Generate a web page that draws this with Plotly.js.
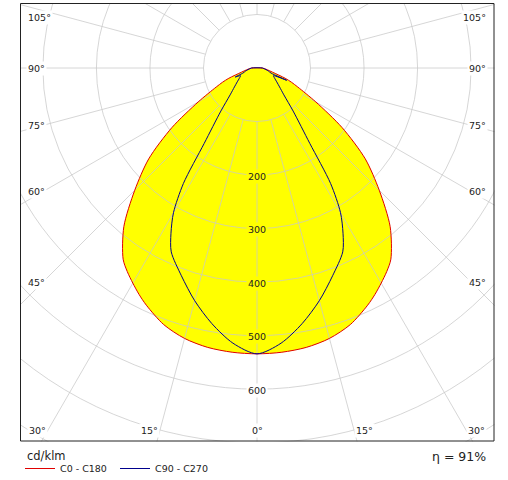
<!DOCTYPE html>
<html><head><meta charset="utf-8">
<script src="https://cdn.plot.ly/plotly-3.0.1.min.js"></script>
<style>
html,body{margin:0;padding:0;overflow:hidden;background:#fff;width:508px;height:480px;}
#wrap{position:absolute;left:0;top:0;width:508px;height:480px;overflow:hidden;}
#chart{position:absolute;left:-198px;top:-387px;width:910px;height:910px;}
</style></head><body><div id="wrap"><div id="chart"></div></div>
<script>
// ---------------- data ----------------
const gamma    = [0,5,10,15,20,25,27.5,30,32.5,35,40,45,50,55,60,65,67.5,70,75,80,85,90];
const c0c180   = [534,533,530,523,510,489,477,464,451,436,387,323,264,194,127,84,70,56,30,20,14,10];
const c90      = [534,516,485,450,413,379,348,312,256,172,105,71,55,45,38,34,60,28,22,17,13,10];
const c270     = [534,516,485,450,413,379,348,312,256,172,105,71,55,45,38,34,44,28,22,17,13,10];
const radialTicks  = [200,300,400,500,600];
const sideAngles   = [105,90,75,60,45];
const sideLabels   = ['105°','90°','75°','60°','45°'];
const bottomAngles = [-30,-15,0,15,30];
const bottomLabels = ['30°','15°','0°','15°','30°'];
const seriesNames  = ['C0 - C180','C90 - C270'];
const unitLabel    = 'cd/klm';
const effLabel     = 'η = 91%';

// ---------------- geometry ----------------
const W = 910, RPX = 455, RMAX = 850;
const CX = 257, CY = 68;
const OFFX = CX - W/2, OFFY = CY - W/2;
const PXU = RPX / RMAX;
const px2x = p => (p - OFFX) / W;
const py2y = p => 1 - (p - OFFY) / W;

function curve(left, right){
  const th = [], r = [];
  for (let i = gamma.length - 1; i >= 1; i--) { th.push(-gamma[i]); r.push(left[i]); }
  for (let i = 0; i < gamma.length; i++) { th.push(gamma[i]); r.push(right[i]); }
  th.push(th[0]); r.push(r[0]);
  return {th, r};
}
const red = curve(c0c180, c0c180);
const blue = curve(c270, c90);

const GRID = 'rgba(200,200,200,0.75)';
const FONT = 'DejaVu Sans';

const data = [
  {type:'scatterpolar', subplot:'polar', r:red.r, theta:red.th, mode:'lines', fill:'toself',
   fillcolor:'#ffff00', line:{width:0, color:'rgba(0,0,0,0)', shape:'spline', smoothing:0.8, simplify:false},
   showlegend:false, hoverinfo:'skip'},
  {type:'scatterpolar', subplot:'polar2', r:[], theta:[], mode:'lines', showlegend:false, hoverinfo:'skip'},
  {type:'scatterpolar', subplot:'polar3', r:red.r, theta:red.th, mode:'lines', name:seriesNames[0],
   line:{color:'#e00000', width:1, shape:'spline', smoothing:0.8, simplify:false}, hoverinfo:'skip'},
  {type:'scatterpolar', subplot:'polar3', r:blue.r, theta:blue.th, mode:'lines', name:seriesNames[1],
   line:{color:'#00008c', width:1, shape:'spline', smoothing:0.8, simplify:false}, hoverinfo:'skip'}
];

const ang = {rotation:-90, direction:'counterclockwise', showticklabels:false, ticks:'', showline:false};
const dom = {x:[0,1], y:[0,1]};

const annotations = [];
sideAngles.forEach((a, i) => {
  let y = CY + (CX - 43) * Math.cos(a*Math.PI/180) / Math.sin(a*Math.PI/180);
  y = Math.max(y, 17);
  annotations.push({text:sideLabels[i], x:px2x(26), y:py2y(y), xanchor:'left', yanchor:'middle'});
  annotations.push({text:sideLabels[i], x:px2x(488), y:py2y(y), xanchor:'right', yanchor:'middle'});
});
bottomAngles.forEach((a, i) => {
  const yb = 430;
  const x = CX + (yb - CY) * Math.tan(a*Math.PI/180);
  annotations.push({text:bottomLabels[i], x:px2x(x), y:py2y(yb),
    xanchor: a < 0 ? 'right' : (a > 0 ? 'left' : 'center'), yanchor:'middle'});
});
annotations.forEach(a => { a.bgcolor = '#ffffff'; });
radialTicks.forEach(t => {
  annotations.push({text:String(t), x:px2x(CX), y:py2y(CY + t*PXU + 1), xanchor:'center', yanchor:'middle',
    bgcolor: t < c0c180[0] ? '#ffff00' : '#ffffff'});
});
annotations.forEach(a => { a.showarrow = false; a.xref = 'paper'; a.yref = 'paper'; a.borderpad = 1;
  a.font = {family:FONT, size:9.5, color:'#222'}; });
annotations.push({text:unitLabel, x:px2x(25), y:py2y(456), xref:'paper', yref:'paper', xanchor:'left', yanchor:'middle',
  showarrow:false, font:{family:FONT, size:11.5, color:'#222'}});
annotations.push({text:effLabel, x:px2x(488), y:py2y(456), xref:'paper', yref:'paper', xanchor:'right', yanchor:'middle',
  showarrow:false, font:{family:FONT, size:12.5, color:'#222'}});

const shapes = [
  {type:'rect', xref:'paper', yref:'paper', x0:0, x1:px2x(20), y0:0, y1:1, fillcolor:'#fff', line:{width:0}, layer:'above'},
  {type:'rect', xref:'paper', yref:'paper', x0:px2x(494.5), x1:1, y0:0, y1:1, fillcolor:'#fff', line:{width:0}, layer:'above'},
  {type:'rect', xref:'paper', yref:'paper', x0:0, x1:1, y0:py2y(3), y1:1, fillcolor:'#fff', line:{width:0}, layer:'above'},
  {type:'rect', xref:'paper', yref:'paper', x0:0, x1:1, y0:0, y1:py2y(441.5), fillcolor:'#fff', line:{width:0}, layer:'above'},
  {type:'rect', xref:'paper', yref:'paper', x0:px2x(20.5), x1:px2x(494), y0:py2y(441), y1:py2y(3.5),
   fillcolor:'rgba(0,0,0,0)', line:{width:1, color:'#222'}, layer:'above'}
];

const layout = {
  width:W, height:W, margin:{l:0, r:0, t:0, b:0},
  paper_bgcolor:'#fff', font:{family:FONT, color:'#222'},
  polar:{domain:dom, bgcolor:'#fff',
    radialaxis:{range:[0,RMAX], visible:false},
    angularaxis:Object.assign({}, ang, {showgrid:false})},
  polar2:{domain:dom, bgcolor:'rgba(0,0,0,0)', hole:100/RMAX,
    radialaxis:{range:[100,RMAX], showgrid:false, showline:false, showticklabels:false, ticks:''},
    angularaxis:Object.assign({}, ang, {showgrid:true, gridcolor:GRID, gridwidth:1, tickmode:'linear', tick0:0, dtick:15})},
  polar3:{domain:dom, bgcolor:'rgba(0,0,0,0)',
    radialaxis:{range:[0,RMAX], tickmode:'linear', tick0:0, dtick:100, showgrid:true, gridcolor:GRID, gridwidth:1,
      showline:false, showticklabels:false, ticks:''},
    angularaxis:Object.assign({}, ang, {showgrid:false})},
  showlegend:true,
  legend:{orientation:'h', x:px2x(20), y:py2y(454), xanchor:'left', yanchor:'top',
    entrywidth:50, entrywidthmode:'pixels', bgcolor:'rgba(0,0,0,0)', borderwidth:0,
    font:{family:FONT, size:9.5, color:'#222'}, traceorder:'normal'},
  annotations, shapes
};

Plotly.newPlot('chart', data, layout, {displayModeBar:false, staticPlot:true});
</script></body></html>
